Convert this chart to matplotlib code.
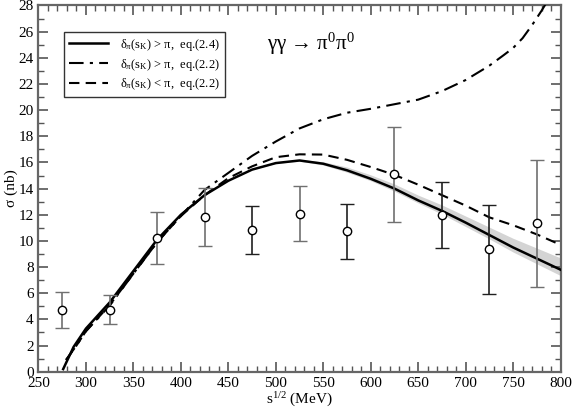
import numpy as np
import matplotlib
matplotlib.use('Agg')
import matplotlib.pyplot as plt
from matplotlib.ticker import MultipleLocator

plt.rcParams['font.family'] = ['Liberation Serif', 'DejaVu Serif']
plt.rcParams['mathtext.fontset'] = 'custom'
plt.rcParams['mathtext.rm'] = 'Liberation Serif'
plt.rcParams['mathtext.it'] = 'Liberation Serif:italic'

# experimental points (gray set and black set)
x_gray = [275, 325, 375, 425, 525, 625, 775]
y_gray = [4.72, 4.72, 10.2, 11.84, 12.09, 15.1, 11.35]
lo_gray = [3.37, 3.62, 8.24, 9.62, 9.98, 11.48, 6.5]
hi_gray = [6.07, 5.85, 12.24, 14.06, 14.23, 18.72, 16.22]

x_black = [475, 575, 675, 725]
y_black = [10.87, 10.74, 11.99, 9.36]
lo_black = [8.98, 8.6, 9.49, 5.97]
hi_black = [12.7, 12.85, 14.49, 12.73]

# delta(sK) > pi, eq.(2.4)
x_solid = [276, 287, 300, 325, 350, 375, 400, 425, 450, 475, 500, 525, 550, 575, 600,
           625, 650, 675, 700, 725, 750, 775, 800]
y_solid = [0.2, 1.9, 3.3, 5.3, 7.7, 10.1, 12.0, 13.5, 14.6, 15.45, 15.95, 16.15, 15.9, 15.4, 14.75,
           14.0, 13.1, 12.3, 11.4, 10.45, 9.5, 8.65, 7.8]
band_up = [0, 0, 0, 0, 0, 0, 0, 0, 0, 0, 0.03, 0.08, 0.15, 0.25, 0.3,
           0.35, 0.4, 0.45, 0.5, 0.6, 0.7, 0.8, 0.9]
band_lo = [0, 0, 0, 0, 0, 0, 0, 0, 0, 0, 0.03, 0.06, 0.1, 0.15, 0.15,
           0.2, 0.2, 0.25, 0.3, 0.3, 0.35, 0.4, 0.45]

# delta(sK) > pi, eq.(2.2)
x_dashdot = [279, 290, 300, 325, 350, 375, 400, 425, 450, 475, 500, 525, 550, 575, 600,
             625, 650, 675, 700, 725, 740, 750, 760, 770, 780, 790]
y_dashdot = [0.9, 2.0, 3.1, 5.05, 7.5, 9.9, 11.9, 13.9, 15.2, 16.5, 17.6, 18.6, 19.3, 19.8, 20.1,
             20.45, 20.8, 21.45, 22.3, 23.4, 24.2, 24.75, 25.5, 26.5, 27.6, 28.8]

# delta(sK) < pi, eq.(2.2)
x_dash = [279, 290, 300, 325, 350, 375, 400, 425, 450, 475, 500, 525, 550, 575, 600,
          625, 650, 675, 700, 725, 750, 775, 800]
y_dash = [0.9, 2.0, 3.1, 5.1, 7.5, 9.9, 11.9, 13.5, 14.8, 15.7, 16.4, 16.62, 16.6, 16.2, 15.65,
          15.05, 14.3, 13.5, 12.7, 11.8, 11.2, 10.5, 9.7]

fig = plt.figure(figsize=(5.72, 4.12), dpi=100)
ax = fig.add_axes([0.0673, 0.0978, 0.9127, 0.8889])

ys = np.array(y_solid)
ax.fill_between(x_solid, ys - np.array(band_lo), ys + np.array(band_up),
                color='#d4d4d4', lw=0, zorder=1)
ax.plot(x_solid, y_solid, color='black', lw=1.8, zorder=3,
        label=r'δ$_\mathrm{π}$(s$_\mathrm{K}$) > π,  eq.(2.4)')
ax.plot(x_dashdot, y_dashdot, color='black', lw=1.5, dashes=(7, 3, 1.5, 3), zorder=3,
        label=r'δ$_\mathrm{π}$(s$_\mathrm{K}$) > π,  eq.(2.2)')
ax.plot(x_dash, y_dash, color='black', lw=1.5, dashes=(5, 3), zorder=3,
        label=r'δ$_\mathrm{π}$(s$_\mathrm{K}$) < π,  eq.(2.2)')

yg = np.array(y_gray)
ax.errorbar(x_gray, y_gray, yerr=[yg - np.array(lo_gray), np.array(hi_gray) - yg],
            fmt='o', color='#707070', ecolor='#707070', elinewidth=1.2, capsize=5, capthick=1.2,
            mfc='white', mec='black', ms=6, mew=1.0, zorder=4)
yb = np.array(y_black)
ax.errorbar(x_black, y_black, yerr=[yb - np.array(lo_black), np.array(hi_black) - yb],
            fmt='o', color='#202020', ecolor='#202020', elinewidth=1.2, capsize=5, capthick=1.2,
            mfc='white', mec='black', ms=6, mew=1.0, zorder=4)

ax.set_xlim(250, 800)
ax.set_ylim(0, 28)
ax.xaxis.set_major_locator(MultipleLocator(50))
ax.xaxis.set_minor_locator(MultipleLocator(10))
ax.yaxis.set_major_locator(MultipleLocator(2))
ax.yaxis.set_minor_locator(MultipleLocator(1))
ax.tick_params(which='both', direction='in', top=True, right=True, labelsize=11, color='#555555')
ax.tick_params(which='major', length=7, width=1.2)
ax.tick_params(which='minor', length=4, width=1.0)
for s in ax.spines.values():
    s.set_color('#666666')
    s.set_linewidth(1.6)

ax.set_xlabel(r's$^{1/2}$ (MeV)', fontsize=11, labelpad=1)
ax.set_ylabel('σ (nb)', fontsize=11, labelpad=0)

ax.text(491, 24.6, r'γγ → π$^\mathrm{0}$π$^\mathrm{0}$', fontsize=15)

leg = ax.legend(loc='upper left', bbox_to_anchor=(0.049, 0.928), borderaxespad=0,
                fontsize=9, frameon=True, fancybox=False, edgecolor='black',
                handlelength=3.1, handletextpad=1.0, borderpad=0.4, labelspacing=0.3)
leg.get_frame().set_linewidth(1.0)

fig.savefig('out.png', dpi=100)
